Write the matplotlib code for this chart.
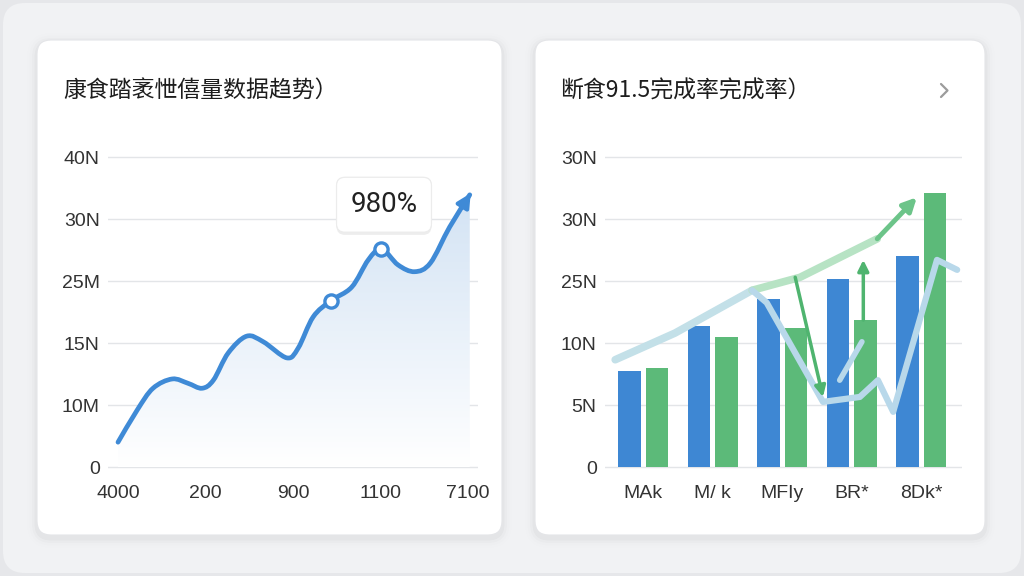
import numpy as np
import matplotlib
matplotlib.use("Agg")
import matplotlib.pyplot as plt
from matplotlib.patches import FancyBboxPatch, PathPatch
from matplotlib.path import Path
from matplotlib.colors import LinearSegmentedColormap
import matplotlib.patheffects as pe

plt.rcParams['font.family'] = ['Liberation Sans', 'Noto Sans CJK SC', 'DejaVu Sans']

# ---- left card: trend line ----
left_title = "康食踏袤怈僖量数据趋势）"
left_yticks = ["0", "10M", "15N", "25M", "30N", "40N"]
left_xticks = ["4000", "200", "900", "1100", "7100"]
trend_x = [0.00, 0.22, 0.40, 0.62, 0.80, 0.96, 1.09, 1.26, 1.47, 1.66, 1.93,
           2.06, 2.23, 2.43, 2.67, 2.86, 3.01, 3.20, 3.39, 3.57, 3.79, 4.02]
trend_y = [0.40, 0.92, 1.27, 1.42, 1.35, 1.27, 1.40, 1.84, 2.11, 2.02, 1.76,
           1.92, 2.42, 2.68, 2.90, 3.34, 3.52, 3.26, 3.15, 3.29, 3.87, 4.39]
marked = [13, 16]
tooltip_text = "980%"

# ---- right card: bars + lines ----
right_title = "断食91.5完成率完成率）"
right_yticks = ["0", "5N", "10N", "25N", "30N", "30N"]
categories = ["MAk", "M/ k", "MFIy", "BR*", "8Dk*"]
blue_vals = [1.55, 2.27, 2.71, 3.03, 3.40]
green_vals = [1.60, 2.10, 2.24, 2.37, 4.42]
pale_green_x = [-0.40, 0.46, 1.57, 2.26, 3.37]
pale_green_y = [1.73, 2.16, 2.85, 3.06, 3.68]
green_tip = (3.94, 4.35)
pale_blue_x = [1.57, 1.78, 2.59, 3.12, 3.38, 3.60, 4.23, 4.52]
pale_blue_y = [2.85, 2.65, 1.05, 1.13, 1.40, 0.89, 3.34, 3.18]
pale_blue2_x = [2.83, 3.15]
pale_blue2_y = [1.40, 2.02]
arrow1 = [(2.19, 3.06), (2.59, 1.13)]
arrow2 = [(3.17, 2.37), (3.17, 3.34)]

W, H = 1024, 576
BLUE = "#3f8ad6"
GREEN = "#5cba79"

fig = plt.figure(figsize=(10.24, 5.76), dpi=100)
fig.patch.set_facecolor("#e6e7ea")
bg = fig.add_axes([0, 0, 1, 1])
bg.set_xlim(0, W)
bg.set_ylim(H, 0)
bg.axis("off")
bg.add_patch(FancyBboxPatch((3, 3), W - 6, H - 6, boxstyle="round,pad=0,rounding_size=22",
                            fc="#f1f2f4", ec="none"))


def rect(x0, y0, x1, y1):
    return [x0 / W, 1 - y1 / H, (x1 - x0) / W, (y1 - y0) / H]


def card(x0, y0, x1, y1):
    for i, a in enumerate([0.025, 0.015, 0.009, 0.005]):
        s = (i + 1) * 2.5
        bg.add_patch(FancyBboxPatch((x0 - s, y0 - s + 3), x1 - x0 + 2 * s, y1 - y0 + 2 * s,
                                    boxstyle=f"round,pad=0,rounding_size={14 + s}",
                                    fc="black", ec="none", alpha=a))
    bg.add_patch(FancyBboxPatch((x0, y0), x1 - x0, y1 - y0,
                                boxstyle="round,pad=0,rounding_size=14",
                                fc="white", ec="#e4e5e8", lw=0.8))


card(37, 40, 502, 535)
card(535, 40, 985, 535)

cjk = ['Noto Sans CJK SC', 'DejaVu Sans']
bg.text(63, 91, left_title, fontsize=16.5, family=cjk, color="#1d1d1d", va="center")
bg.text(560, 91, right_title, fontsize=16.5, family=cjk, color="#1d1d1d", va="center")
bg.plot([941, 947.5, 941], [84, 90.5, 97], color="#9c9c9c", lw=1.6,
        solid_capstyle="round", solid_joinstyle="round")


def style(ax, ylabels, xlabels):
    ax.set_facecolor("none")
    for s in ax.spines.values():
        s.set_visible(False)
    ax.set_yticks(range(len(ylabels)))
    ax.set_yticklabels(ylabels)
    ax.set_xticks(range(len(xlabels)))
    ax.set_xticklabels(xlabels)
    ax.tick_params(axis="y", length=0, labelsize=14, colors="#333333", pad=6)
    ax.tick_params(axis="x", length=0, labelsize=14, colors="#333333", pad=9)
    ax.yaxis.grid(True, color="#e3e5e8", lw=1)
    ax.set_axisbelow(True)


def smooth(xs, ys):
    # Catmull-Rom through the points, drawn as cubic bezier pieces
    p = np.column_stack([xs, ys])
    verts = [p[0]]
    codes = [Path.MOVETO]
    n = len(p)
    for i in range(n - 1):
        p0 = p[max(i - 1, 0)]
        p3 = p[min(i + 2, n - 1)]
        c1 = p[i] + (p[i + 1] - p0) / 6
        c2 = p[i + 1] - (p3 - p[i]) / 6
        verts += [c1, c2, p[i + 1]]
        codes += [Path.CURVE4] * 3
    return verts, codes


# ---------- left chart ----------
ax1 = fig.add_axes(rect(108, 140, 478, 472))
ax1.set_xlim((108 - 118) / 87.5, (478 - 118) / 87.5)
ax1.set_ylim((467 - 472) / 62, (467 - 140) / 62)
style(ax1, left_yticks, left_xticks)

verts, codes = smooth(trend_x, trend_y)
fill_path = Path(verts + [(trend_x[-1], 0), (trend_x[0], 0), (trend_x[0], 0)],
                 codes + [Path.LINETO, Path.LINETO, Path.CLOSEPOLY])
fill_patch = PathPatch(fill_path, fc="none", ec="none")
ax1.add_patch(fill_patch)
cmap = LinearSegmentedColormap.from_list("fade", ["#ffffff", "#d3e3f4"])
grad = np.linspace(0, 1, 256).reshape(-1, 1)
im = ax1.imshow(grad, cmap=cmap, origin="lower", aspect="auto",
                extent=[trend_x[0], trend_x[-1], 0, max(trend_y)], zorder=1)
im.set_clip_path(fill_patch)

ax1.add_patch(PathPatch(Path(verts, codes), fc="none", ec=BLUE, lw=3.4,
                        capstyle="round", joinstyle="round", zorder=3))
ex, ey = trend_x[-1], trend_y[-1]
dx, dy = ex - trend_x[-2], ey - trend_y[-2]
ax1.annotate("", xy=(ex + 0.05 * dx, ey + 0.05 * dy), xytext=(ex - 0.4 * dx, ey - 0.4 * dy),
             arrowprops=dict(arrowstyle="-|>", color=BLUE, lw=3, mutation_scale=20,
                             shrinkA=0, shrinkB=0), zorder=3)
ax1.plot([trend_x[i] for i in marked], [trend_y[i] for i in marked], "o", ms=9.5,
         mfc="white", mec=BLUE, mew=2.4, zorder=4)

tx = trend_x[marked[1]] + 0.03
ty = trend_y[marked[1]] + 0.71
ax1.plot([trend_x[marked[1]]], [trend_y[marked[1]] + 0.27], marker="v", ms=9,
         color="white", zorder=5, clip_on=False)
t = ax1.text(tx, ty, tooltip_text, fontsize=20, ha="center", va="center", color="#222222",
             family=['Roboto', 'DejaVu Sans'], zorder=6,
             bbox=dict(boxstyle="round,pad=0.5,rounding_size=0.3", fc="white", ec="#ececec", lw=0.8))
t.get_bbox_patch().set_path_effects([pe.withSimplePatchShadow(offset=(0, -2), shadow_rgbFace="black",
                                                               alpha=0.07), pe.Normal()])

# ---------- right chart ----------
ax2 = fig.add_axes(rect(605, 140, 962, 472))
ax2.set_xlim((605 - 643) / 69.5, (962 - 643) / 69.5)
ax2.set_ylim((467 - 472) / 62, (467 - 140) / 62)
style(ax2, right_yticks, categories)

xi = np.arange(len(categories))
bw = 22.5 / 69.5
off = 13.75 / 69.5
ax2.bar(xi - off, blue_vals, width=bw, color="#3e87d3", zorder=2)
ax2.bar(xi + off, green_vals, width=bw, color=GREEN, zorder=2)

ax2.plot(pale_green_x[:3], pale_green_y[:3], color="#c3e0e8", lw=5.5,
         solid_capstyle="round", zorder=3)
ax2.plot(pale_green_x[2:], pale_green_y[2:], color="#b7e3c4", lw=5.5,
         solid_capstyle="round", zorder=3)
ax2.annotate("", xy=green_tip, xytext=(pale_green_x[-1], pale_green_y[-1]),
             arrowprops=dict(arrowstyle="-|>", color="#6cc489", lw=3.5, mutation_scale=20,
                             shrinkA=0, shrinkB=0), zorder=4)
ax2.plot(pale_blue_x, pale_blue_y, color="#b8d8ea", lw=4.5, solid_capstyle="round",
         solid_joinstyle="round", zorder=3)
ax2.plot(pale_blue2_x, pale_blue2_y, color="#b8d8ea", lw=4, solid_capstyle="round", zorder=3)
for a in (arrow1, arrow2):
    ax2.annotate("", xy=a[1], xytext=a[0],
                 arrowprops=dict(arrowstyle="-|>", color="#4fb46f", lw=2.5, mutation_scale=16,
                                 shrinkA=0, shrinkB=0), zorder=4)

fig.savefig("out.png", dpi=100, facecolor=fig.get_facecolor())
